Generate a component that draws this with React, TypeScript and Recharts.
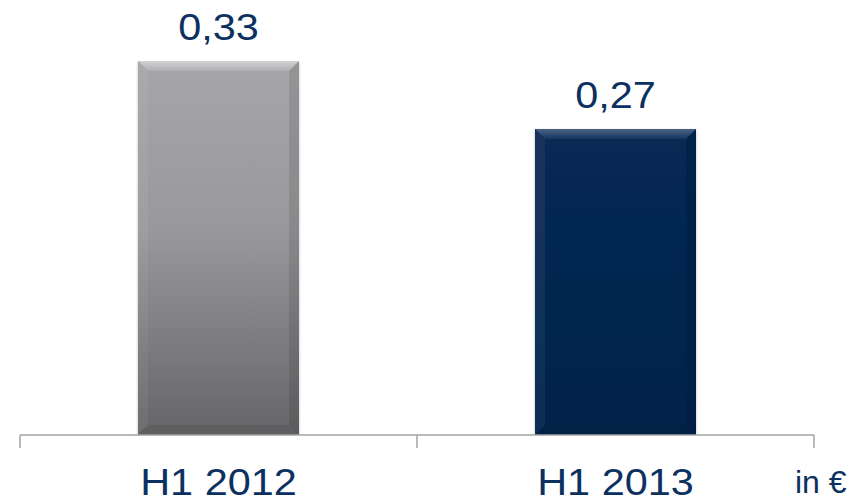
import React from "react";
import { BarChart, Bar, XAxis, YAxis, LabelList } from "recharts";

const categories = ["H1 2012", "H1 2013"];
const values = [0.33, 0.27];
const valueLabels = ["0,33", "0,27"];
const unitLabel = "in €";

const data = categories.map((name, i) => ({ name, value: values[i], label: valueLabels[i] }));

const TEXT = "#0c3160";
const AXIS = "#a3a3a3";
const STRETCH = 1.12;

const BevelBar = (props: any) => {
  const { x, y, width, height, index } = props;
  if (height <= 0) return null;
  const b = 10;
  const grad = index === 0 ? "url(#gGray)" : "url(#gNavy)";
  return (
    <g filter="url(#shadow)">
      <rect x={x} y={y} width={width} height={height} fill={grad} />
      <polygon
        points={`${x},${y} ${x + width},${y} ${x + width - b},${y + b} ${x + b},${y + b}`}
        fill="url(#gTopBevel)"
        fillOpacity={index === 0 ? 0.55 : 0.3}
      />
      <polygon
        points={`${x},${y} ${x + b},${y + b} ${x + b},${y + height - b} ${x},${y + height}`}
        fill="#ffffff"
        fillOpacity={0.05}
      />
      <polygon
        points={`${x + width},${y} ${x + width - b},${y + b} ${x + width - b},${y + height - b} ${x + width},${y + height}`}
        fill="#000000"
        fillOpacity={0.1}
      />
      <polygon
        points={`${x},${y + height} ${x + b},${y + height - b} ${x + width - b},${y + height - b} ${x + width},${y + height}`}
        fill="#000000"
        fillOpacity={0.08}
      />
    </g>
  );
};

const CategoryTick = (props: any) => {
  const { x, y, payload, index, visibleTicksCount } = props;
  const half = payload && payload.offset ? payload.offset : 0;
  const isLast = index === visibleTicksCount - 1;
  return (
    <g>
      <line x1={x - half} y1={y} x2={x - half} y2={y + 13} stroke={AXIS} strokeWidth={1.5} />
      {isLast ? (
        <line x1={x + half} y1={y} x2={x + half} y2={y + 13} stroke={AXIS} strokeWidth={1.5} />
      ) : null}
      <g transform={`translate(${x},${y + 60})`}>
        <text
          transform={`scale(${STRETCH},1)`}
          textAnchor="middle"
          fill={TEXT}
          fontSize={37}
          fontFamily="Liberation Sans, Arial, sans-serif"
        >
          {payload.value}
        </text>
      </g>
    </g>
  );
};

const ValueLabel = (props: any) => {
  const { x, y, width, value } = props;
  return (
    <g transform={`translate(${x + width / 2},${y - 21})`}>
      <text
        transform={`scale(${STRETCH},1)`}
        textAnchor="middle"
        fill={TEXT}
        fontSize={37}
        fontFamily="Liberation Sans, Arial, sans-serif"
      >
        {value}
      </text>
    </g>
  );
};

export default function App() {
  return (
    <div style={{ position: "absolute", left: 0, top: 0, width: 865, height: 503 }}>
      <BarChart
        width={865}
        height={503}
        data={data}
        margin={{ top: 61, right: 51, bottom: 0, left: 20 }}
      >
        <defs>
          <linearGradient id="gGray" x1="0" y1="0" x2="0" y2="1">
            <stop offset="0%" stopColor="#a6a6aa" />
            <stop offset="45%" stopColor="#99999d" />
            <stop offset="100%" stopColor="#656569" />
          </linearGradient>
          <linearGradient id="gNavy" x1="0" y1="0" x2="0" y2="1">
            <stop offset="0%" stopColor="#072955" />
            <stop offset="100%" stopColor="#04234b" />
          </linearGradient>
          <linearGradient id="gTopBevel" x1="0" y1="0" x2="0" y2="1">
            <stop offset="0%" stopColor="#ffffff" stopOpacity={0.9} />
            <stop offset="100%" stopColor="#ffffff" stopOpacity={0.2} />
          </linearGradient>
          <filter id="shadow" x="-10%" y="-10%" width="120%" height="120%">
            <feDropShadow dx="0" dy="1" stdDeviation="1.5" floodColor="#000" floodOpacity="0.25" />
          </filter>
        </defs>
        <XAxis
          dataKey="name"
          type="category"
          axisLine={{ stroke: AXIS, strokeWidth: 1.5 }}
          tickLine={false}
          tickSize={0}
          tickMargin={0}
          tick={<CategoryTick />}
          height={68}
          interval={0}
        />
        <YAxis hide domain={[0, 0.33]} allowDataOverflow />
        <Bar dataKey="value" barSize={161} shape={<BevelBar />} isAnimationActive={false}>
          <LabelList dataKey="label" content={<ValueLabel />} />
        </Bar>
      </BarChart>
      <div
        style={{
          position: "absolute",
          left: 795,
          top: 464,
          fontFamily: "Liberation Sans, Arial, sans-serif",
          fontSize: 32,
          color: TEXT,
          lineHeight: "36px",
          whiteSpace: "nowrap",
        }}
      >
        {unitLabel}
      </div>
    </div>
  );
}
